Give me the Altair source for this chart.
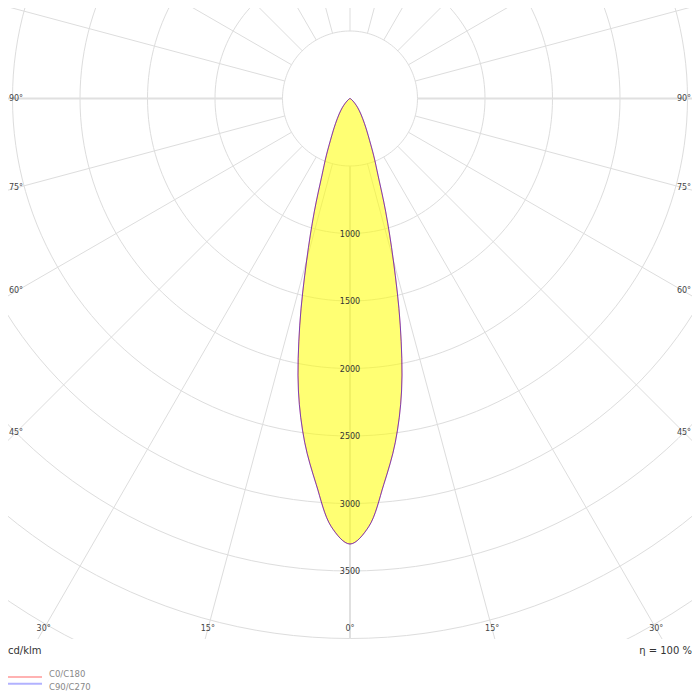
import altair as alt
import pandas as pd

# ---- data (cd/klm); C0/C180 and C90/C270 coincide ----
gamma = [0, 2.5, 5, 7.5, 10, 12.5, 15, 17.5, 20, 22.5, 25, 27.5, 30, 35, 40, 45, 50, 55, 60, 70, 80, 90]
intensity = [3300, 3175, 2870, 2570, 2200, 1720, 1240, 880, 610, 460, 345, 270, 215, 140, 90, 52, 28, 15, 8, 3, 1, 0]
series_names = ["C0/C180", "C90/C270"]
series_colors = ["#ff0000", "#0000ff"]
grid_radii = [500, 1000, 1500, 2000, 2500, 3000, 3500, 4000, 4500, 5000]
radial_labels = [1000, 1500, 2000, 2500, 3000, 3500]
ray_angles = list(range(0, 360, 15))
main_rays = [0, 90, 270]
angle_labels = [-90, -75, -60, -45, -30, -15, 0, 15, 30, 45, 60, 75, 90]
unit_text = "cd/klm"
efficiency_text = "η = 100 %"

# ---- layout ----
K = 0.135            # px per cd/klm
W, H = 684, 631      # plot area
CX, CY = 342, 90.5   # pole position inside plot area
FONT = "DejaVu Sans"
xscale = alt.Scale(domain=[-CX / K, (W - CX) / K], nice=False, zero=False)
yscale = alt.Scale(domain=[-(H - CY) / K, CY / K], nice=False, zero=False)
XI = 334 / K
YI = 530.5 / K


def X(f):
    return alt.X(f, type="quantitative", scale=xscale, axis=None)


def Y(f):
    return alt.Y(f, type="quantitative", scale=yscale, axis=None)


circ_df = pd.DataFrame([{"r": r, "a": a} for r in grid_radii for a in range(0, 361, 2)])
ray_df = pd.DataFrame([{"g": g, "r": r, "main": g in main_rays} for g in ray_angles for r in (500, 6000)])
line_rows = []
for s in series_names:
    for g, v in zip(gamma, intensity):
        line_rows.append({"series": s, "t": g, "I": v})
        if g > 0:
            line_rows.append({"series": s, "t": -g, "I": v})
line_df = pd.DataFrame(line_rows)
rlab_df = pd.DataFrame({"v": radial_labels})
alab_df = pd.DataFrame({"g": angle_labels})
leg_df = pd.DataFrame({"series": series_names})

circles = alt.Chart(circ_df).transform_calculate(
    px="datum.r*sin(datum.a*PI/180)", py="datum.r*cos(datum.a*PI/180)"
).mark_line(clip=True, color="#dddddd", strokeWidth=1).encode(
    x=X("px"), y=Y("py"), detail="r:N", order="a:Q")

rays_base = alt.Chart(ray_df).transform_calculate(
    px="datum.r*sin(datum.g*PI/180)", py="-datum.r*cos(datum.g*PI/180)")
rays_minor = rays_base.transform_filter("!datum.main").mark_line(
    clip=True, color="#dddddd", strokeWidth=1).encode(x=X("px"), y=Y("py"), detail="g:N", order="r:Q")
rays_major = rays_base.transform_filter("datum.main").mark_line(
    clip=True, color="#e0e0e0", strokeWidth=2).encode(x=X("px"), y=Y("py"), detail="g:N", order="r:Q")

curve_base = alt.Chart(line_df).transform_calculate(
    px="datum.I*sin(datum.t*PI/180)", py="-datum.I*cos(datum.t*PI/180)")

fill = curve_base.transform_filter(f"datum.series == '{series_names[0]}'").mark_line(
    interpolate="catmull-rom", fill="#ffff00", fillOpacity=0.55, stroke="#ffff00", strokeOpacity=0,
    clip=True).encode(x=X("px"), y=Y("py"), order="t:Q")

color_scale = alt.Scale(domain=series_names, range=series_colors)
lines = curve_base.mark_line(strokeWidth=1, opacity=0.5, clip=True, interpolate="catmull-rom").encode(
    x=X("px"), y=Y("py"), color=alt.Color("series:N", scale=color_scale, legend=None), order="t:Q")

rlabels = alt.Chart(rlab_df).transform_calculate(
    px="0", py="-datum.v", lab="'' + datum.v"
).mark_text(font=FONT, fontSize=8, color="#333333", baseline="middle", dy=1).encode(
    x=X("px"), y=Y("py"), text="lab:N")

alabels = alt.Chart(alab_df).transform_calculate(
    rad="datum.g*PI/180",
    t=f"min({XI}/abs(sin(datum.rad)), {YI}/cos(datum.rad))",
    px="datum.t*sin(datum.rad)", py="-datum.t*cos(datum.rad)",
    lab="abs(datum.g) + '°'"
).mark_text(font=FONT, fontSize=8, color="#444444", baseline="middle").encode(
    x=X("px"), y=Y("py"), text="lab:N")

unit = alt.Chart(pd.DataFrame({"t": [unit_text]})).mark_text(
    font=FONT, fontSize=10, color="#333333", align="left", baseline="middle").encode(
    x=alt.value(0), y=alt.value(643), text="t:N")
eff = alt.Chart(pd.DataFrame({"t": [efficiency_text]})).mark_text(
    font=FONT, fontSize=10, color="#333333", align="right", baseline="middle").encode(
    x=alt.value(684), y=alt.value(643), text="t:N")

leg_y = alt.Y("series:N", scale=alt.Scale(domain=series_names, range=[665.5, 679], padding=0), axis=None)
leg_lines = alt.Chart(leg_df).mark_rule(strokeWidth=2, opacity=0.3).encode(
    x=alt.value(0), x2=alt.value(34), y=leg_y,
    color=alt.Color("series:N", scale=color_scale, legend=None))
leg_text = alt.Chart(leg_df).mark_text(
    font=FONT, fontSize=8.5, color="#888888", align="left", baseline="middle").encode(
    x=alt.value(41), y=leg_y, text="series:N")

chart = alt.layer(
    circles, rays_minor, rays_major, fill, lines, rlabels, alabels, unit, eff, leg_lines, leg_text
).resolve_scale(y="independent").properties(
    width=W, height=H,
    padding={"left": 0, "top": 0, "right": 0, "bottom": 53},
    autosize=alt.AutoSizeParams(type="none"),
    background="white",
).configure_view(stroke=None)

chart.save("out.html", embed_options={"renderer": "svg", "actions": False})
